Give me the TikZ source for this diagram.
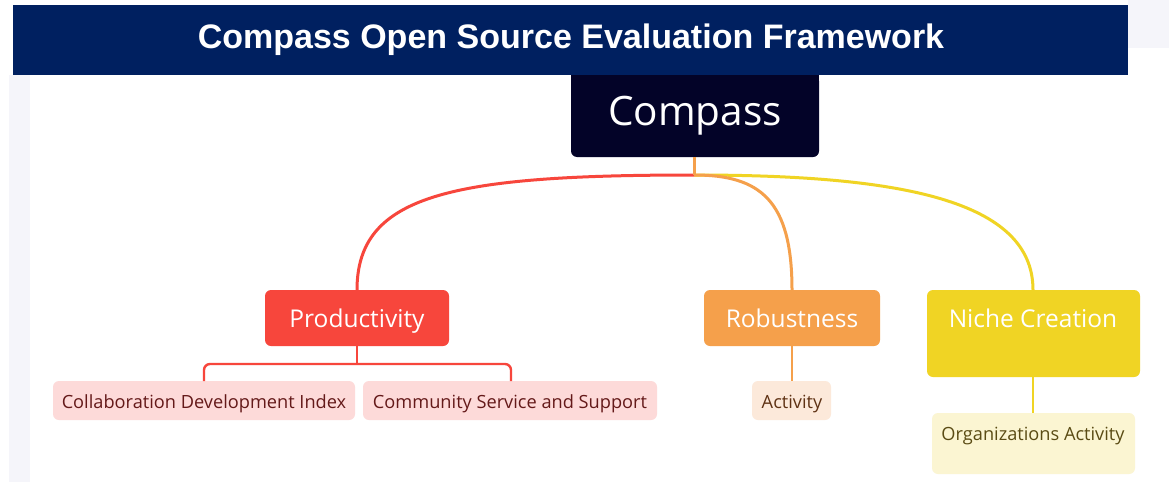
\documentclass[tikz,border=0pt]{standalone}
\usepackage{fontspec}
\setmainfont{Open Sans}
\newfontfamily\titlefont{Liberation Sans}
\definecolor{titlebg}{RGB}{0,32,96}
\definecolor{rootbg}{RGB}{3,3,40}
\definecolor{cred}{RGB}{247,70,60}
\definecolor{corange}{RGB}{245,160,75}
\definecolor{cyellow}{RGB}{240,212,36}
\definecolor{lred}{RGB}{253,218,217}
\definecolor{lorange}{RGB}{252,233,218}
\definecolor{lyellow}{RGB}{251,245,210}
\definecolor{tred}{RGB}{100,25,25}
\definecolor{torange}{RGB}{95,50,20}
\definecolor{tyellow}{RGB}{90,75,20}
\definecolor{paleside}{RGB}{245,245,250}
\begin{document}
\begin{tikzpicture}[x=1pt,y=-1pt,
  conn/.style={line width=3pt},
  sub/.style={line width=2.4pt},
  big/.style={text=white, anchor=base, inner sep=0pt, font=\fontsize{24.5}{29}\selectfont},
  leaf/.style={anchor=base, inner sep=0pt, font=\fontsize{18.2}{22}\selectfont}]
\useasboundingbox (0,0) rectangle (1169,482);
\fill[white] (0,0) rectangle (1169,482);
\fill[paleside] (9,75) rectangle (30,482);
\fill[paleside] (1128,0) rectangle (1169,48);
% title
\fill[titlebg] (13,5) rectangle (1128,75);
\node[text=white, font=\titlefont\bfseries\fontsize{34}{38}\selectfont] (title) at (571,40) {Compass Open Source Evaluation Framework};
% root
\path[fill=rootbg, rounded corners=6pt] (571,75) -- (571,157) -- (819,157) -- (819,75) -- cycle;
\fill[rootbg] (571,75) rectangle (819,90);
\node[text=white, anchor=base, inner sep=0pt, font=\fontsize{40.5}{46}\selectfont] (root) at (695,125) {Compass};
\coordinate (rb) at (694,157);
\coordinate (hub) at (694,175);
% category boxes
\fill[cred, rounded corners=6pt] (265,290) rectangle (449,346);
\node[big] (prod) at (357,327) {Productivity};
\fill[corange, rounded corners=6pt] (704,290) rectangle (880,346);
\node[big] (rob) at (792,327) {Robustness};
\fill[cyellow, rounded corners=6pt] (927,290) rectangle (1140,377);
\node[big] (niche) at (1033,327) {Niche Creation};
\coordinate (prodT) at (357,290);
\coordinate (prodB) at (357,346);
\coordinate (robT) at (792,290);
\coordinate (robB) at (792,346);
\coordinate (nicheT) at (1033,290);
\coordinate (nicheB) at (1033,377);
% connectors root
\draw[conn, cred] (hub) .. controls (450,175) and (357,195) .. (prodT);
\draw[conn, cyellow] (hub) .. controls (900,175) and (1033,200) .. (nicheT);
\draw[conn, corange] (hub) .. controls (760,175) and (792,200) .. (robT);
\draw[conn, corange] (rb) -- (hub);
% leaf boxes
\fill[lred, rounded corners=6pt] (53,381) rectangle (355,420);
\node[leaf, text=tred] (cdi) at (204,408) {Collaboration Development Index};
\fill[lred, rounded corners=6pt] (363,381) rectangle (657,420);
\node[leaf, text=tred] (css) at (510,408) {Community Service and Support};
\fill[lorange, rounded corners=6pt] (752,381) rectangle (831,420);
\node[leaf, text=torange] (act) at (792,408) {Activity};
\fill[lyellow, rounded corners=6pt] (932,413) rectangle (1135,474);
\node[leaf, text=tyellow] (org) at (1033,440) {Organizations Activity};
\coordinate (cdiT) at (204,381);
\coordinate (cssT) at (511,381);
\coordinate (actT) at (792,381);
\coordinate (orgT) at (1033,413);
% sub connectors
\draw[sub, cred] (prodB) -- (357,364);
\draw[sub, cred, rounded corners=6pt] (cdiT) -- (204,364) -- (511,364) -- (cssT);
\draw[sub, corange] (robB) -- (actT);
\draw[sub, cyellow] (nicheB) -- (orgT);
\end{tikzpicture}
\end{document}
